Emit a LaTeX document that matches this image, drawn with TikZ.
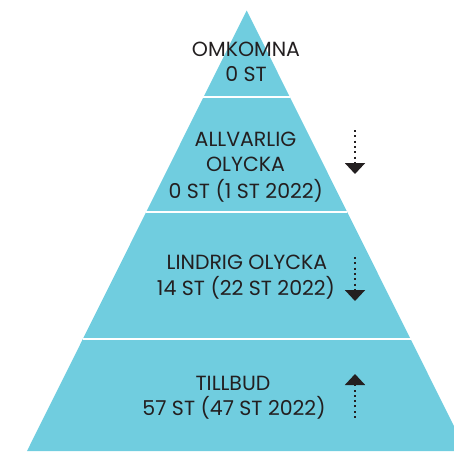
\documentclass[tikz,border=0pt]{standalone}
\usepackage{fontspec}
\setmainfont{Poppins}
\usetikzlibrary{arrows.meta}
\definecolor{pyr}{HTML}{70CDDF}
\definecolor{txt}{HTML}{231F20}
\begin{document}
\begin{tikzpicture}[x=1pt,y=-1pt,
  lbl/.style={text=txt,anchor=base,font=\fontsize{20.5}{26}\selectfont,inner sep=0pt},
  sep/.style={draw=white,line width=2pt},
  trend/.style={draw=txt,line width=2pt,dash pattern=on 2pt off 3.3pt,
    -{Triangle[width=20pt,length=11pt]}}]
\useasboundingbox (0,0) rectangle (454,451);
\begin{scope}
\clip (0,0) rectangle (454,451);
\fill[pyr] (246.7,10.5) -- (466.4,451) -- (27,451) -- cycle;
\end{scope}
\coordinate (l1) at (203.4,97); \coordinate (r1) at (290,97);
\coordinate (l2) at (146,212); \coordinate (r2) at (347.4,212);
\coordinate (l3) at (82.7,339); \coordinate (r3) at (410.7,339);
\draw[sep] (l1) -- (r1);
\draw[sep] (l2) -- (r2);
\draw[sep] (l3) -- (r3);
\node[lbl] (t1a) at (246,56.7) {OMKOMNA};
\node[lbl] (t1b) at (246,81) {0 ST};
\node[lbl] (t2a) at (245.5,146) {ALLVARLIG};
\node[lbl] (t2b) at (245.5,171.7) {OLYCKA};
\node[lbl] (t2c) at (245.8,198.3) {0 ST (1 ST 2022)};
\node[lbl] (t3a) at (247,269) {LINDRIG OLYCKA};
\node[lbl] (t3b) at (246,295) {14 ST (22 ST 2022)};
\node[lbl] (t4a) at (233,390.7) {TILLBUD};
\node[lbl] (t4b) at (234,415.7) {57 ST (47 ST 2022)};
\coordinate (a1s) at (355,130); \coordinate (a1e) at (355,174);
\coordinate (a2s) at (355,257); \coordinate (a2e) at (355,301);
\coordinate (a3s) at (355,418); \coordinate (a3e) at (355,374);
\draw[trend] (a1s) -- (a1e);
\draw[trend] (a2s) -- (a2e);
\draw[trend] (a3s) -- (a3e);
\end{tikzpicture}
\end{document}
